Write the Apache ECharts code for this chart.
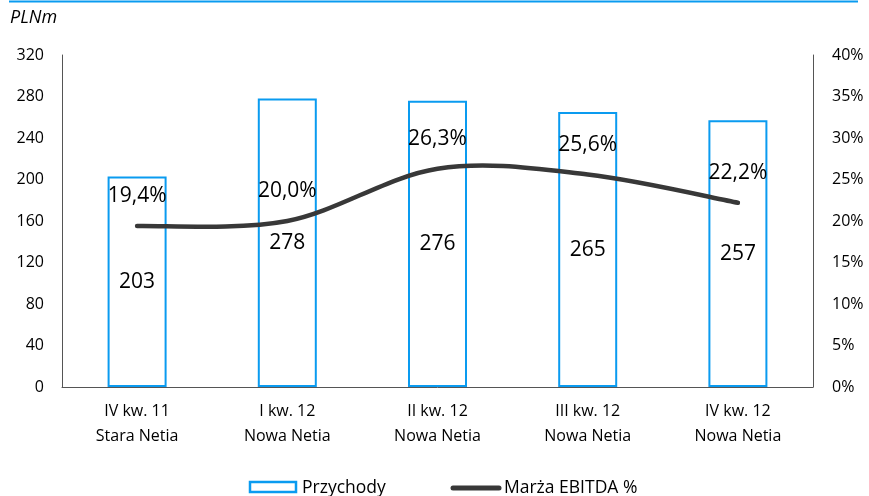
<!DOCTYPE html>
<html>
<head>
<meta charset="utf-8">
<script src="https://cdn.jsdelivr.net/npm/echarts@6/dist/echarts.min.js"></script>
<style>
  html, body { margin: 0; padding: 0; background: #fff; }
  #chart { width: 869px; height: 496px; }
</style>
</head>
<body>
<div id="chart"></div>
<script>
// Quarterly revenue (PLNm) and EBITDA margin (%)
const categories = [
  'IV kw. 11\nStara Netia',
  'I kw. 12\nNowa Netia',
  'II kw. 12\nNowa Netia',
  'III kw. 12\nNowa Netia',
  'IV kw. 12\nNowa Netia'
];
const revenue = [203, 278, 276, 265, 257];
const ebitdaMargin = [19.4, 20.0, 26.3, 25.6, 22.2];
const leftTicks = [0, 40, 80, 120, 160, 200, 240, 280, 320];
const rightTicks = [0, 5, 10, 15, 20, 25, 30, 35, 40];

const FONT = 'Open Sans';
const BLUE = '#0a9bf0';
const DARK = '#383838';

// Catmull-Rom style smoothing through the margin points (pixel coords)
function smoothPath(pts) {
  let d = 'M' + pts[0][0] + ' ' + pts[0][1];
  for (let i = 0; i < pts.length - 1; i++) {
    const p0 = pts[Math.max(i - 1, 0)];
    const p1 = pts[i];
    const p2 = pts[i + 1];
    const p3 = pts[Math.min(i + 2, pts.length - 1)];
    const c1x = p1[0] + (p2[0] - p0[0]) / 6;
    const c1y = p1[1] + (p2[1] - p0[1]) / 6;
    const c2x = p2[0] - (p3[0] - p1[0]) / 6;
    const c2y = p2[1] - (p3[1] - p1[1]) / 6;
    d += ' C' + c1x + ' ' + c1y + ' ' + c2x + ' ' + c2y + ' ' + p2[0] + ' ' + p2[1];
  }
  return d;
}

const chart = echarts.init(document.getElementById('chart'), null, { renderer: 'canvas' });

chart.setOption({
  animation: false,
  textStyle: { fontFamily: FONT, color: '#000' },
  graphic: [
    { type: 'line', shape: { x1: 9, y1: 1.5, x2: 858, y2: 1.5 }, style: { stroke: BLUE, lineWidth: 2 } },
    { type: 'text', left: 10, top: 9, style: { text: 'PLNm', font: 'italic 18px "Open Sans"', fill: '#000' } },
    // legend
    { type: 'rect', shape: { x: 250, y: 482, width: 46, height: 10 }, style: { fill: '#fff', stroke: BLUE, lineWidth: 2.5 } },
    { type: 'text', x: 302, y: 488, style: { text: 'Przychody', font: '17.5px "Open Sans"', fill: '#000', textVerticalAlign: 'middle' } },
    { type: 'line', shape: { x1: 453, y1: 488, x2: 499, y2: 488 }, style: { stroke: DARK, lineWidth: 5, lineCap: 'round' } },
    { type: 'text', x: 504, y: 488, style: { text: 'Marża EBITDA %', font: '17.5px "Open Sans"', fill: '#000', textVerticalAlign: 'middle' } }
  ],
  grid: { left: 62, right: 56, top: 55, bottom: 109 },
  xAxis: {
    type: 'category',
    data: categories,
    axisLine: { lineStyle: { color: '#555', width: 1 } },
    axisTick: { show: false },
    axisLabel: { fontFamily: FONT, fontSize: 16, color: '#000', margin: 12, lineHeight: 25 }
  },
  yAxis: [
    {
      type: 'value', min: leftTicks[0], max: leftTicks[leftTicks.length - 1], interval: 40,
      axisLine: { show: true, lineStyle: { color: '#555' } },
      axisTick: { show: false },
      splitLine: { show: false },
      axisLabel: { fontFamily: FONT, fontSize: 16, color: '#000', margin: 18 }
    },
    {
      type: 'value', min: rightTicks[0], max: rightTicks[rightTicks.length - 1], interval: 5,
      axisLine: { show: true, lineStyle: { color: '#555' } },
      axisTick: { show: false },
      splitLine: { show: false },
      axisLabel: { fontFamily: FONT, fontSize: 16, color: '#000', margin: 19, formatter: '{value}%' }
    }
  ],
  series: [
    {
      name: 'Przychody',
      type: 'bar',
      data: revenue,
      barWidth: 59,
      itemStyle: { color: '#fff', borderColor: BLUE, borderWidth: 2 },
      label: { show: true, position: 'inside', fontFamily: FONT, fontSize: 21, color: '#000' }
    },
    {
      name: 'Marża EBITDA %',
      type: 'custom',
      yAxisIndex: 1,
      data: ebitdaMargin,
      z: 3,
      renderItem: function (params, api) {
        if (params.dataIndex !== 0) return { type: 'group', children: [] };
        const pts = ebitdaMargin.map((v, i) => api.coord([i, v]));
        return {
          type: 'path',
          shape: { pathData: smoothPath(pts) },
          style: { fill: 'none', stroke: DARK, lineWidth: 4.5, lineCap: 'round', lineJoin: 'round' }
        };
      }
    },
    {
      name: 'Marża EBITDA % labels',
      type: 'scatter',
      yAxisIndex: 1,
      data: ebitdaMargin,
      symbol: 'circle',
      symbolSize: 1,
      itemStyle: { color: 'rgba(0,0,0,0)', opacity: 1 },
      z: 4,
      label: {
        show: true, position: 'top', distance: 19, fontFamily: FONT, fontSize: 21, color: '#000',
        formatter: p => p.value.toFixed(1).replace('.', ',') + '%'
      }
    }
  ]
});
</script>
</body>
</html>
